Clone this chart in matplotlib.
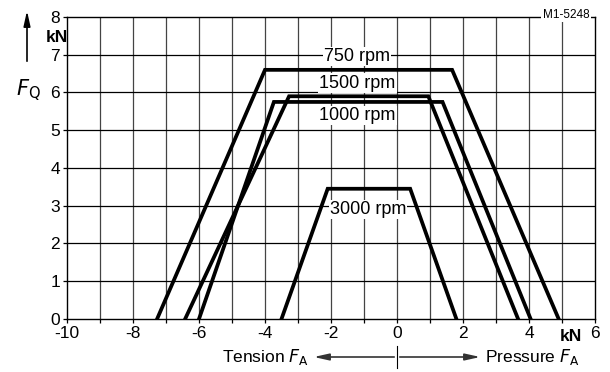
import matplotlib
matplotlib.use("Agg")
import matplotlib.pyplot as plt

plt.rcParams['font.family'] = ['Liberation Sans', 'DejaVu Sans']

# Data: trapezoid curves (axial force F_A, transverse force F_Q)
rpm_labels = ["750 rpm", "1500 rpm", "1000 rpm", "3000 rpm"]
fa_750 = [-7.27, -4.0, 1.67, 4.9]
fq_750 = [0, 6.6, 6.6, 0]
fa_1500 = [-6.42, -3.27, 0.95, 3.67]
fq_1500 = [0, 5.9, 5.9, 0]
fa_1000 = [-6.0, -3.73, 1.38, 4.05]
fq_1000 = [0, 5.75, 5.75, 0]
fa_3000 = [-3.5, -2.1, 0.4, 1.8]
fq_3000 = [0, 3.45, 3.45, 0]

label_pos = [(-1.2, 6.95), (-1.2, 6.25), (-1.2, 5.38), (-0.88, 2.91)]

xticks = [-10, -8, -6, -4, -2, 0, 2, 4, 6]
yticks = [0, 1, 2, 3, 4, 5, 6, 7, 8]

fig = plt.figure(figsize=(6.1, 3.72), dpi=100)
ax = fig.add_axes([0.1098, 0.1425, 0.8656, 0.8118])
ax.set_xlim(-10, 6)
ax.set_ylim(0, 8)

# grid
for x in range(-9, 6):
    ax.axvline(x, color='#444444', lw=0.9, zorder=1)
for y in range(1, 8):
    ax.axhline(y, color='black', lw=0.9, zorder=1)

for fa, fq in [(fa_750, fq_750), (fa_1500, fq_1500), (fa_1000, fq_1000), (fa_3000, fq_3000)]:
    ax.plot(fa, fq, color='black', lw=2.7, solid_joinstyle='miter', zorder=3)

for lab, (x, y) in zip(rpm_labels, label_pos):
    ax.text(x, y, lab, fontsize=13, ha='center', va='center', zorder=4,
            bbox=dict(facecolor='white', edgecolor='none', pad=0.8))

for s in ax.spines.values():
    s.set_linewidth(1.0)

ax.set_xticks(range(-10, 7))
ax.set_xticklabels([str(v) if v in xticks else '' for v in range(-10, 7)])
ax.set_yticks(yticks)
ax.set_yticklabels([str(v) for v in yticks])
ax.tick_params(axis='both', direction='out', length=3, width=0.9, labelsize=12.5, pad=2)

ax.text(5.27, -0.47, 'kN', fontsize=12.5, fontweight='bold', ha='center', va='center', clip_on=False)
ax.text(-10.3, 7.45, 'kN', fontsize=12.5, fontweight='bold', ha='center', va='center', clip_on=False)
ax.text(-11.18, 6.05, r'$\mathit{F}_{\mathrm{Q}}$', fontsize=15, ha='center', va='center', clip_on=False)

fig.text(566/610, 1 - 15/372, 'M1-5248', fontsize=8.5, ha='center', va='center',
         bbox=dict(facecolor='white', edgecolor='none', pad=1.0))

# vertical arrow for F_Q
ax.annotate('', xy=(27/610, 1 - 8/372), xytext=(27/610, 1 - 64/372), xycoords='figure fraction',
            textcoords='figure fraction',
            arrowprops=dict(arrowstyle='-|>,head_length=0.9,head_width=0.2', color='black', lw=1.2))

# bottom double arrow
y_arr = 1 - 357/372
ax.annotate('', xy=(311/610, y_arr), xytext=(397/610, y_arr), xycoords='figure fraction',
            textcoords='figure fraction',
            arrowprops=dict(arrowstyle='-|>,head_length=0.9,head_width=0.2', color='#333333', lw=1.2))
ax.annotate('', xy=(483/610, y_arr), xytext=(397/610, y_arr), xycoords='figure fraction',
            textcoords='figure fraction',
            arrowprops=dict(arrowstyle='-|>,head_length=0.9,head_width=0.2', color='#333333', lw=1.2))
fig.add_artist(plt.Line2D([397/610, 397/610], [1 - 346/372, 1 - 368/372], color='black', lw=0.8))
fig.text(309/610, 1 - 357/372, r'Tension $\mathit{F}_{\mathrm{A}}$', fontsize=12.5, ha='right', va='center')
fig.text(485/610, 1 - 357/372, r'Pressure $\mathit{F}_{\mathrm{A}}$', fontsize=12.5, ha='left', va='center')

fig.savefig('out.png', dpi=100)
